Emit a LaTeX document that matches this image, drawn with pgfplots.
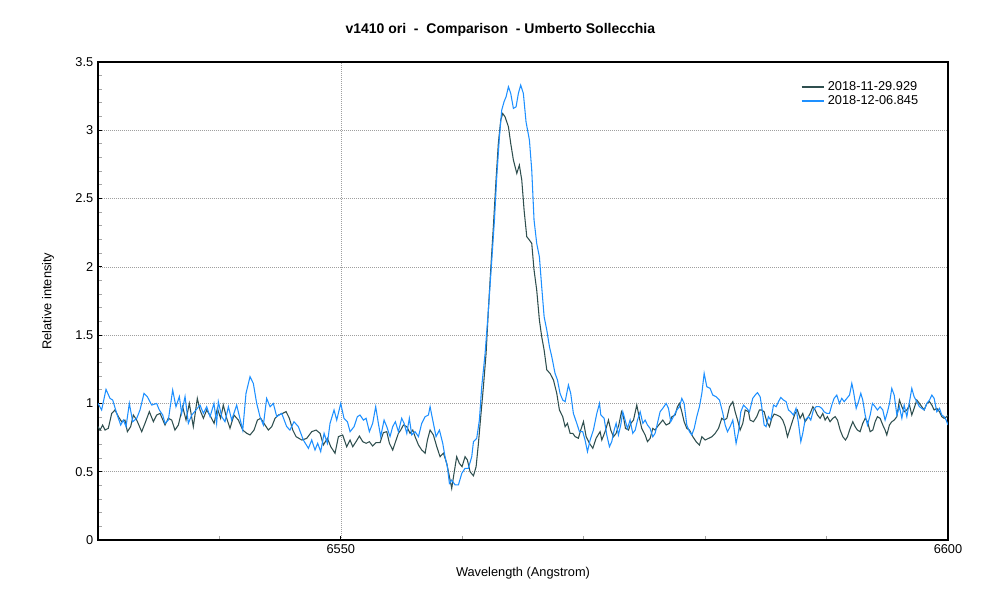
\documentclass[border=0pt]{standalone}
\usepackage{pgfplots}
\pgfplotsset{compat=1.18}
\usepackage{fontspec}
\setmainfont{Liberation Sans}
\definecolor{serA}{RGB}{47,79,79}
\definecolor{serB}{RGB}{30,144,255}

% spectrum 2018-11-29.929
\pgfplotstableread{
x y
6530.00 0.830
6530.17 0.805
6530.38 0.842
6530.58 0.805
6530.85 0.818
6531.13 0.927
6531.40 0.952
6531.68 0.903
6531.95 0.866
6532.22 0.878
6532.42 0.793
6532.69 0.830
6532.91 0.915
6533.19 0.878
6533.60 0.793
6533.87 0.854
6534.23 0.940
6534.56 0.866
6534.83 0.915
6535.11 0.927
6535.52 0.842
6535.79 0.891
6536.07 0.878
6536.34 0.805
6536.62 0.842
6536.97 0.976
6537.25 0.878
6537.52 1.000
6537.85 0.830
6538.18 1.037
6538.40 0.952
6538.68 0.891
6538.95 0.952
6539.28 0.903
6539.56 0.854
6539.83 0.964
6540.10 0.891
6540.32 0.988
6540.60 0.891
6540.87 0.818
6541.20 0.915
6541.56 0.878
6541.92 0.805
6542.25 0.781
6542.52 0.769
6542.85 0.805
6543.13 0.878
6543.40 0.891
6543.67 0.854
6544.03 0.805
6544.31 0.830
6544.58 0.891
6544.85 0.915
6545.21 0.927
6545.49 0.940
6545.76 0.891
6546.04 0.805
6546.31 0.757
6546.78 0.732
6547.19 0.744
6547.60 0.793
6547.96 0.805
6548.29 0.781
6548.56 0.696
6548.89 0.745
6549.17 0.683
6549.52 0.635
6549.80 0.757
6550.15 0.769
6550.48 0.683
6550.76 0.732
6550.98 0.683
6551.25 0.720
6551.53 0.761
6551.80 0.720
6552.08 0.708
6552.35 0.720
6552.62 0.688
6552.90 0.713
6553.23 0.713
6553.50 0.786
6553.78 0.793
6554.00 0.708
6554.27 0.659
6554.55 0.732
6554.74 0.781
6554.93 0.805
6555.15 0.842
6555.43 0.830
6555.70 0.781
6555.92 0.805
6556.11 0.757
6556.39 0.696
6556.66 0.659
6556.94 0.635
6557.13 0.732
6557.35 0.805
6557.62 0.769
6557.90 0.683
6558.17 0.610
6558.45 0.635
6558.72 0.561
6558.94 0.464
6559.13 0.378
6559.32 0.488
6559.54 0.610
6559.76 0.561
6559.98 0.537
6560.23 0.610
6560.42 0.586
6560.64 0.500
6560.92 0.470
6561.14 0.537
6561.33 0.708
6561.52 0.903
6561.74 1.122
6561.96 1.367
6562.15 1.684
6562.34 1.977
6562.56 2.294
6562.78 2.635
6562.97 2.904
6563.17 3.075
6563.33 3.123
6563.52 3.099
6563.80 3.026
6563.99 2.904
6564.21 2.782
6564.49 2.684
6564.70 2.745
6564.90 2.635
6565.09 2.416
6565.31 2.221
6565.53 2.196
6565.72 2.172
6565.91 1.977
6566.13 1.830
6566.35 1.611
6566.54 1.489
6566.74 1.391
6566.96 1.245
6567.23 1.220
6567.51 1.171
6567.78 1.074
6568.00 0.952
6568.27 0.903
6568.47 0.830
6568.66 0.854
6568.88 0.781
6569.10 0.781
6569.29 0.757
6569.56 0.745
6569.76 0.806
6569.98 0.867
6570.20 0.757
6570.47 0.708
6570.75 0.671
6571.02 0.745
6571.35 0.793
6571.49 0.732
6571.76 0.793
6572.04 0.878
6572.23 0.805
6572.45 0.756
6572.67 0.781
6572.89 0.842
6573.11 0.939
6573.27 0.903
6573.44 0.817
6573.69 0.805
6573.88 0.854
6574.10 0.878
6574.37 0.988
6574.59 0.891
6574.78 0.817
6575.06 0.769
6575.25 0.720
6575.47 0.744
6575.69 0.817
6575.88 0.805
6576.07 0.830
6576.29 0.854
6576.51 0.878
6576.79 0.842
6577.06 0.854
6577.26 0.903
6577.53 0.915
6577.72 0.976
6577.89 1.000
6578.08 0.939
6578.27 0.866
6578.49 0.817
6578.71 0.805
6578.99 0.756
6579.26 0.720
6579.53 0.695
6579.73 0.756
6580.00 0.732
6580.28 0.744
6580.55 0.756
6580.83 0.781
6581.10 0.817
6581.37 0.891
6581.57 0.878
6581.79 0.891
6582.01 0.976
6582.28 1.013
6582.47 0.939
6582.67 0.878
6582.88 0.805
6583.10 0.854
6583.30 0.952
6583.57 0.939
6583.70 0.878
6583.98 0.866
6584.25 0.903
6584.47 0.952
6584.66 0.952
6584.86 0.939
6585.08 0.866
6585.30 0.830
6585.49 0.891
6585.68 0.922
6585.90 0.915
6586.17 0.903
6586.39 0.878
6586.59 0.830
6586.78 0.756
6587.00 0.817
6587.22 0.878
6587.41 0.927
6587.60 0.952
6587.82 0.891
6588.04 0.927
6588.23 0.866
6588.43 0.891
6588.65 0.927
6588.87 0.976
6589.06 0.952
6589.25 0.915
6589.47 0.891
6589.69 0.927
6589.88 0.878
6590.07 0.903
6590.29 0.866
6590.51 0.891
6590.71 0.903
6590.90 0.878
6591.12 0.805
6591.34 0.756
6591.56 0.732
6591.72 0.756
6591.94 0.817
6592.16 0.866
6592.35 0.830
6592.54 0.805
6592.76 0.793
6592.98 0.854
6593.18 0.891
6593.37 0.866
6593.59 0.793
6593.81 0.805
6594.00 0.866
6594.19 0.903
6594.41 0.891
6594.63 0.842
6594.82 0.805
6594.96 0.769
6595.18 0.842
6595.37 0.866
6595.57 0.878
6595.79 0.903
6596.00 1.025
6596.20 0.976
6596.39 0.939
6596.61 0.952
6596.83 0.988
6597.02 0.915
6597.21 0.964
6597.43 1.025
6597.65 1.000
6597.84 0.976
6598.04 0.952
6598.26 1.000
6598.48 1.013
6598.67 0.988
6598.86 0.952
6599.08 0.964
6599.30 0.939
6599.49 0.903
6599.68 0.891
6599.90 0.903
6600.00 0.915
}\specA

% spectrum 2018-12-06.845
\pgfplotstableread{
x y
6530.00 1.000
6530.30 0.952
6530.66 1.103
6530.99 1.037
6531.21 1.025
6531.54 0.927
6531.87 0.842
6532.09 0.878
6532.31 0.830
6532.58 1.000
6532.86 0.866
6533.19 0.891
6533.46 0.952
6533.79 1.074
6534.06 1.050
6534.42 0.988
6534.83 1.000
6535.05 0.952
6535.33 0.915
6535.52 0.854
6535.79 0.878
6536.15 1.098
6536.42 0.976
6536.70 1.050
6536.89 0.927
6537.17 1.050
6537.44 0.854
6537.72 0.915
6538.07 0.952
6538.40 0.988
6538.68 0.927
6538.95 0.976
6539.23 0.903
6539.55 1.000
6539.77 0.854
6539.91 1.013
6540.19 0.903
6540.46 0.866
6540.74 0.976
6541.01 0.878
6541.42 0.988
6541.92 0.805
6542.19 1.074
6542.52 1.196
6542.79 1.147
6543.07 1.000
6543.34 0.903
6543.62 0.842
6543.89 1.037
6544.17 0.976
6544.44 1.000
6544.72 0.903
6545.13 0.927
6545.54 0.830
6545.81 0.805
6546.14 0.866
6546.50 0.830
6546.91 0.732
6547.33 0.671
6547.60 0.732
6547.87 0.659
6548.09 0.708
6548.34 0.647
6548.62 0.781
6548.89 0.708
6549.11 0.854
6549.44 0.952
6549.66 0.878
6549.99 1.000
6550.26 0.891
6550.54 0.866
6550.76 0.793
6551.09 0.830
6551.36 0.903
6551.58 0.915
6551.86 0.878
6552.08 0.891
6552.35 0.793
6552.62 0.854
6552.87 0.976
6553.09 0.854
6553.28 0.757
6553.56 0.878
6553.78 0.830
6554.05 0.757
6554.27 0.830
6554.49 0.866
6554.74 0.793
6555.01 0.891
6555.21 0.854
6555.43 0.781
6555.64 0.891
6555.84 0.769
6556.11 0.793
6556.39 0.757
6556.66 0.854
6556.94 0.903
6557.21 0.915
6557.35 0.976
6557.62 0.854
6557.84 0.757
6558.12 0.805
6558.39 0.708
6558.58 0.610
6558.77 0.537
6558.94 0.415
6559.13 0.439
6559.41 0.403
6559.68 0.403
6559.96 0.488
6560.23 0.525
6560.50 0.525
6560.78 0.610
6560.92 0.720
6561.19 0.745
6561.41 0.879
6561.60 1.122
6561.88 1.367
6562.15 1.684
6562.43 2.050
6562.65 2.343
6562.84 2.660
6563.06 2.953
6563.25 3.148
6563.44 3.209
6563.61 3.246
6563.80 3.319
6563.99 3.270
6564.21 3.160
6564.43 3.172
6564.62 3.270
6564.81 3.331
6565.03 3.270
6565.25 3.062
6565.53 2.928
6565.72 2.709
6565.91 2.343
6566.13 2.172
6566.35 2.074
6566.54 1.855
6566.74 1.635
6566.96 1.537
6567.18 1.415
6567.37 1.342
6567.64 1.220
6567.84 1.171
6568.05 1.074
6568.27 1.025
6568.47 1.013
6568.74 1.135
6568.93 1.074
6569.15 0.927
6569.43 0.854
6569.65 0.793
6569.92 0.793
6570.11 0.732
6570.31 0.647
6570.53 0.732
6570.80 0.806
6571.08 0.927
6571.30 1.000
6571.41 0.915
6571.68 0.891
6571.90 0.769
6572.12 0.683
6572.31 0.720
6572.51 0.805
6572.67 0.854
6572.86 0.769
6573.05 0.842
6573.22 0.939
6573.41 0.878
6573.60 0.817
6573.82 0.878
6574.04 0.781
6574.24 0.805
6574.43 0.878
6574.65 0.939
6574.87 0.854
6575.06 0.878
6575.25 0.842
6575.47 0.817
6575.69 0.756
6575.88 0.781
6576.07 0.854
6576.29 0.939
6576.51 0.964
6576.79 1.000
6576.98 0.964
6577.17 0.866
6577.39 0.903
6577.67 0.952
6577.89 0.976
6578.08 1.037
6578.27 1.000
6578.49 0.842
6578.71 0.793
6578.90 0.769
6579.10 0.817
6579.31 0.903
6579.53 0.976
6579.73 1.074
6579.92 1.220
6580.14 1.122
6580.41 1.110
6580.63 1.061
6580.91 1.049
6581.18 1.025
6581.46 0.927
6581.65 0.842
6581.84 0.793
6582.06 0.830
6582.28 0.878
6582.55 0.708
6582.75 0.793
6582.94 0.939
6583.16 0.988
6583.43 0.964
6583.65 0.939
6583.92 1.037
6584.12 1.061
6584.31 1.079
6584.53 1.049
6584.66 0.976
6584.86 0.842
6585.02 0.830
6585.21 0.903
6585.41 0.878
6585.63 0.988
6585.85 0.976
6586.04 1.013
6586.23 1.044
6586.45 1.025
6586.67 1.013
6586.86 0.952
6587.05 0.939
6587.27 0.915
6587.49 0.964
6587.69 0.854
6587.88 0.720
6588.04 0.781
6588.23 0.878
6588.51 0.903
6588.70 0.878
6588.92 0.952
6589.14 0.976
6589.41 0.976
6589.61 0.964
6589.80 0.939
6590.02 0.927
6590.24 0.927
6590.43 0.988
6590.62 1.037
6590.84 1.061
6591.06 1.000
6591.25 1.037
6591.45 1.013
6591.67 1.037
6591.89 1.061
6592.08 1.147
6592.22 1.086
6592.44 0.964
6592.63 1.013
6592.82 1.074
6592.98 1.025
6593.18 0.915
6593.37 0.842
6593.59 0.915
6593.78 1.000
6594.00 0.976
6594.19 0.952
6594.41 0.976
6594.63 0.952
6594.82 0.878
6595.02 0.939
6595.18 1.000
6595.37 1.110
6595.57 1.061
6595.79 0.915
6596.00 0.976
6596.20 0.891
6596.39 0.988
6596.61 0.903
6596.83 1.013
6597.02 1.110
6597.21 1.049
6597.43 1.013
6597.65 0.976
6597.84 0.964
6598.04 0.952
6598.26 1.000
6598.48 1.025
6598.67 1.061
6598.86 1.037
6599.08 0.939
6599.30 0.964
6599.49 0.915
6599.68 0.903
6599.85 0.878
6600.00 0.842
}\specB

\begin{document}
\begin{tikzpicture}
\useasboundingbox (-73.5pt,-49.5pt) rectangle (676.5pt,405pt);
\begin{axis}[
    at={(0,0)}, anchor=south west,
    scale only axis,
    width=637.5pt, height=358.5pt,
    xmin=6530, xmax=6600,
    ymin=0, ymax=3.5,
    xtick={6550,6600},
    minor xtick={6540,6560,6570,6580,6590},
    ytick={0,0.5,...,3.5},
    minor y tick num=4,
    tick pos=left,
    tick align=inside,
    major tick length=3pt,
    minor tick length=3pt,
    major tick style={black, line width=0.75pt},
    minor tick style={gray!70, line width=0.75pt},
    axis line style={line width=0.9pt},
    xmajorgrids, ymajorgrids,
    major grid style={gray!75, line width=0.5pt, dash pattern=on 0.75pt off 0.75pt},
    /pgf/number format/assume math mode=true,
    xticklabel style={/pgf/number format/1000 sep={}},
    yticklabel style={/pgf/number format/fixed},
    tick label style={font=\fontsize{9.6}{11}\selectfont},
    label style={font=\fontsize{9.6}{11}\selectfont},
    title={v1410 ori \ - \ Comparison \ - Umberto Sollecchia},
    title style={font=\fontsize{10.5}{12}\selectfont\bfseries, at={(0.5,1)}, anchor=center, yshift=18pt, xshift=-17pt},
    xlabel={Wavelength (Angstrom)},
    xlabel style={at={(0.5,0)}, anchor=center, yshift=-24.75pt},
    ylabel={Relative intensity},
    ylabel style={at={(-0.0588,0.5)}, anchor=center},
    legend style={at={(0.97,0.968)}, anchor=north east, draw=none, fill=none,
        font=\fontsize{9.6}{11}\selectfont, row sep=-1.5pt, inner sep=1pt},
    legend cell align=left,
    legend image code/.code={\draw[#1, line width=1.5pt] (0pt,0pt) -- (17pt,0pt);},
]
\addplot[serA, line width=0.8pt] table {\specA};
\addplot[serB, line width=0.8pt] table {\specB};
\legend{2018-11-29.929, 2018-12-06.845}
\end{axis}
\end{tikzpicture}
\end{document}
